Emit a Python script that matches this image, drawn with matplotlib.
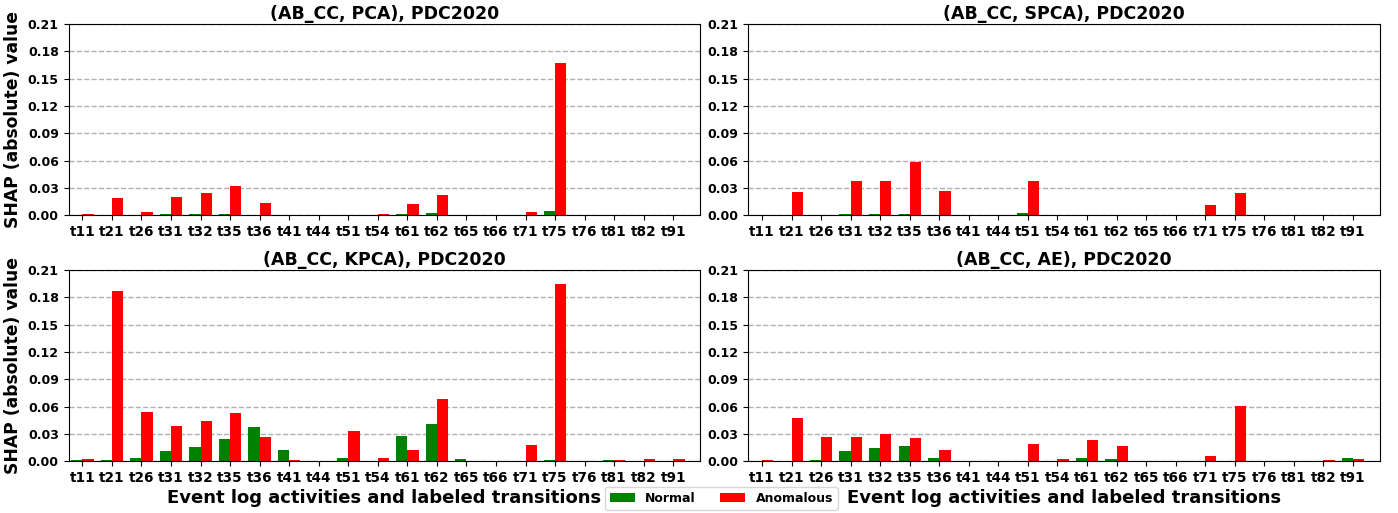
import numpy as np
import matplotlib.pyplot as plt

labels = ['t11', 't21', 't26', 't31', 't32', 't35', 't36', 't41', 't44', 't51', 't54',
          't61', 't62', 't65', 't66', 't71', 't75', 't76', 't81', 't82', 't91']

pca_normal = [0.0002, 0.0, 0.0, 0.001, 0.001, 0.001, 0.0, 0.0, 0.0, 0.0, 0.0,
              0.001, 0.002, 0.0, 0.0, 0.0, 0.005, 0.0, 0.0, 0.0, 0.0]
pca_anom = [0.001, 0.019, 0.004, 0.020, 0.024, 0.032, 0.013, 0.0, 0.0, 0.0, 0.001,
            0.012, 0.022, 0.0, 0.0, 0.004, 0.167, 0.0, 0.0, 0.0, 0.0]

spca_normal = [0.0, 0.0, 0.0, 0.001, 0.001, 0.001, 0.0, 0.0, 0.0, 0.002, 0.0,
               0.0, 0.0, 0.0, 0.0, 0.0, 0.0, 0.0, 0.0, 0.0, 0.0]
spca_anom = [0.0, 0.025, 0.0, 0.038, 0.037, 0.058, 0.027, 0.0, 0.0, 0.038, 0.0,
             0.0, 0.0, 0.0, 0.0, 0.011, 0.024, 0.0, 0.0, 0.0, 0.0]

kpca_normal = [0.001, 0.001, 0.003, 0.011, 0.016, 0.024, 0.038, 0.012, 0.0, 0.003, 0.0,
               0.028, 0.041, 0.002, 0.0005, 0.0005, 0.001, 0.0, 0.001, 0.0005, 0.0005]
kpca_anom = [0.002, 0.187, 0.054, 0.039, 0.044, 0.053, 0.027, 0.001, 0.0, 0.033, 0.003,
             0.012, 0.068, 0.0005, 0.0005, 0.018, 0.195, 0.0, 0.001, 0.002, 0.002]

ae_normal = [0.0, 0.0, 0.001, 0.011, 0.015, 0.017, 0.004, 0.0, 0.0, 0.0005, 0.0005,
             0.003, 0.002, 0.0, 0.0, 0.0, 0.0005, 0.0, 0.0, 0.0005, 0.003]
ae_anom = [0.001, 0.048, 0.027, 0.027, 0.030, 0.025, 0.012, 0.0005, 0.0, 0.019, 0.002,
           0.023, 0.017, 0.0005, 0.0005, 0.006, 0.061, 0.0, 0.0005, 0.001, 0.002]

panels = [('(AB_CC, PCA), PDC2020', pca_normal, pca_anom),
          ('(AB_CC, SPCA), PDC2020', spca_normal, spca_anom),
          ('(AB_CC, KPCA), PDC2020', kpca_normal, kpca_anom),
          ('(AB_CC, AE), PDC2020', ae_normal, ae_anom)]

x = np.arange(len(labels))
w = 0.38
yt = np.arange(0, 0.211, 0.03)

fig, axes = plt.subplots(2, 2, figsize=(13.98, 5.13), dpi=100)
fig.subplots_adjust(left=0.049, right=0.987, top=0.953, bottom=0.101,
                    wspace=0.076, hspace=0.288)

for i, (ax, (title, normal, anom)) in enumerate(zip(axes.flat, panels)):
    ax.set_axisbelow(True)
    ax.grid(axis='y', linestyle='--', color='#b0b0b0', linewidth=1.0)
    ax.bar(x - w / 2, normal, w, color='green', label='Normal')
    ax.bar(x + w / 2, anom, w, color='red', label='Anomalous')
    ax.set_title(title, fontsize=12.5, fontweight='bold', pad=4)
    ax.set_xticks(x)
    ax.set_xticklabels(labels, fontsize=9.8, fontweight='bold')
    ax.set_ylim(0, 0.21)
    ax.set_yticks(yt)
    ax.set_yticklabels(['%.2f' % v for v in yt], fontsize=9, fontweight='bold')
    ax.set_xlim(-0.47, len(labels) - 0.09)
    if i % 2 == 0:
        ax.set_ylabel('SHAP (absolute) value', fontsize=12.3, fontweight='bold')
    if i >= 2:
        ax.set_xlabel('Event log activities and labeled transitions',
                      fontsize=13, fontweight='bold', labelpad=3)

handles, lbls = axes[0, 0].get_legend_handles_labels()
fig.legend(handles, lbls, loc='center', bbox_to_anchor=(0.516, 0.029), ncol=2,
           prop={'weight': 'bold', 'size': 9})

plt.savefig('out.png')
